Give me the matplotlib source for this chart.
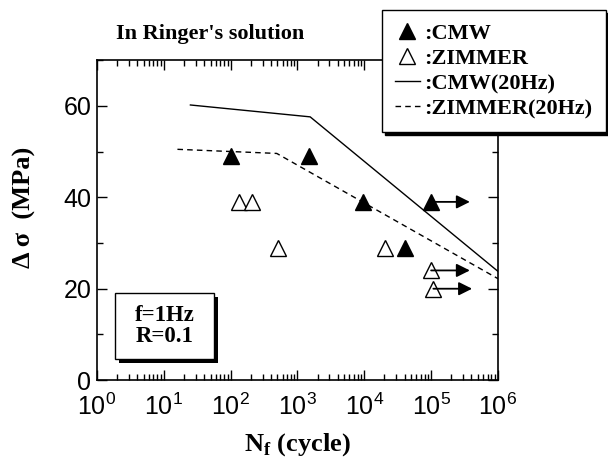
import matplotlib.pyplot as plt
from matplotlib.ticker import LogLocator, MultipleLocator, NullFormatter

# fatigue data, 1 Hz in Ringer's solution
cmw_n = [100, 1500, 9500, 40000, 100000]
cmw_s = [49, 49, 39, 29, 39]
cmw_runout = [False, False, False, False, True]

zim_n = [135, 210, 520, 20500, 100000, 108000]
zim_s = [39, 39, 29, 29, 24, 20]
zim_runout = [False, False, False, False, True, True]

# 20 Hz curves
cmw20_n = [25, 1550, 1e6]
cmw20_s = [60.2, 57.6, 23.8]
zim20_n = [16, 490, 1e6]
zim20_s = [50.5, 49.6, 22.2]

serif = "Liberation Serif"
sans = "Liberation Sans"

fig = plt.figure(figsize=(6.08, 4.63), dpi=100)
ax = fig.add_axes([0.1595, 0.179, 0.6595, 0.691])

ax.plot(cmw20_n, cmw20_s, color="k", lw=1.0, label=":CMW(20Hz)")
ax.plot(zim20_n, zim20_s, color="k", lw=1.0, ls=(0, (4, 3)), label=":ZIMMER(20Hz)")
ax.plot(cmw_n, cmw_s, "^", color="k", ms=12, ls="none", label=":CMW")
ax.plot(zim_n, zim_s, "^", mfc="white", mec="k", mew=1.0, ms=12, ls="none",
        label=":ZIMMER")

for n, s, r in list(zip(cmw_n, cmw_s, cmw_runout)) + list(zip(zim_n, zim_s, zim_runout)):
    if r:
        ax.annotate("", xy=(n * 3.8, s), xytext=(n, s),
                    arrowprops=dict(arrowstyle="-|>", color="k", lw=1.3,
                                    mutation_scale=20, shrinkA=0, shrinkB=0))

ax.set_xscale("log")
ax.set_xlim(1, 1e6)
ax.set_ylim(0, 70)
ax.xaxis.set_major_locator(LogLocator(base=10, numticks=10))
ax.xaxis.set_minor_locator(LogLocator(base=10, subs=range(2, 10), numticks=20))
ax.xaxis.set_minor_formatter(NullFormatter())
ax.yaxis.set_major_locator(MultipleLocator(20))
ax.yaxis.set_minor_locator(MultipleLocator(10))
ax.tick_params(which="both", direction="in", top=True, right=True, width=1)
ax.tick_params(which="major", length=7, labelsize=18)
ax.tick_params(axis="x", which="major", pad=10)
ax.tick_params(axis="y", which="major", pad=4)
ax.tick_params(which="minor", length=4)
for lab in ax.get_xticklabels() + ax.get_yticklabels():
    lab.set_fontfamily(sans)
for sp in ax.spines.values():
    sp.set_linewidth(1.2)

ax.set_xlabel(r"N$_\mathregular{f}$ (cycle)", fontfamily=serif, fontweight="bold",
              fontsize=19)
ax.set_ylabel("Δ σ  (MPa)", fontfamily=serif, fontweight="bold", fontsize=19)
ax.xaxis.set_label_coords(0.5, -0.16)
ax.yaxis.set_label_coords(-0.152, 0.54)

fig.text(0.19, 0.927, "In Ringer's solution", fontfamily=serif, fontweight="bold",
         fontsize=16, ha="left", va="center")

# inset box with shadow
ax.add_patch(plt.Rectangle((0.055, 0.054), 0.247, 0.206, transform=ax.transAxes,
                           fc="k", ec="none", zorder=3))
ax.add_patch(plt.Rectangle((0.045, 0.066), 0.247, 0.206, transform=ax.transAxes,
                           fc="white", ec="k", lw=1.0, zorder=4))
ax.text(0.168, 0.169, "f=1Hz\nR=0.1", transform=ax.transAxes, ha="center",
        va="center", fontfamily=serif, fontweight="bold", fontsize=16.5,
        linespacing=1.0, zorder=5)

h, l = ax.get_legend_handles_labels()
order = [2, 3, 0, 1]
leg = fig.legend([h[i] for i in order], [l[i] for i in order],
                 loc="upper left", bbox_to_anchor=(0.628, 0.978),
                 prop={"family": serif, "weight": "bold", "size": 16},
                 handlelength=1.1, handletextpad=0.2, labelspacing=0.2,
                 borderpad=0.6, borderaxespad=0, frameon=True, fancybox=False,
                 shadow={"color": "k", "alpha": 1})
leg.get_frame().set_edgecolor("k")
leg.get_frame().set_linewidth(1.0)

fig.savefig("out.png", dpi=100)
